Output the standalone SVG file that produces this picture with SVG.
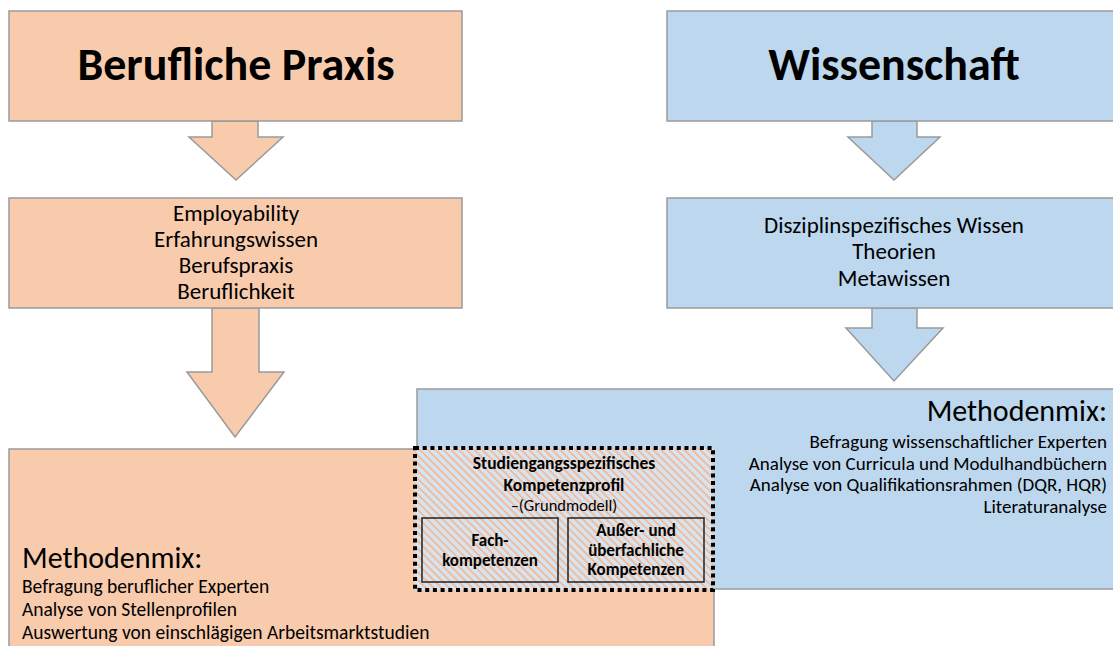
<svg xmlns="http://www.w3.org/2000/svg" width="1113" height="646" viewBox="0 0 1113 646">
<defs>
<style>
.or{fill:#F8CBAD;stroke:#9a9a9a;stroke-width:1.5}
.bl{fill:#BDD7EE;stroke:#9a9a9a;stroke-width:1.5}
text{font-family:Carlito,"Open Sans","Noto Sans",sans-serif;fill:#000}
.title{font-size:46px;font-weight:bold;text-anchor:middle}
.body{font-size:23px;text-anchor:middle}
.mm{font-size:30px}
.ml{font-size:19.5px}
.mr{font-size:19px;text-anchor:end}
.bold{font-weight:bold;font-size:17.5px;text-anchor:middle}
.bs{font-weight:bold;font-size:17px;text-anchor:middle}
.small{font-size:16.5px;text-anchor:middle}
.inner{fill:none;stroke:#222;stroke-width:1.5}
</style>
<pattern id="hatch" patternUnits="userSpaceOnUse" width="5.5" height="5.5" patternTransform="rotate(-45)">
<rect width="5.5" height="5.5" fill="#D6E4F2"/>
<rect width="1.8" height="5.5" fill="#F4B994"/>
</pattern>
</defs>
<rect width="1113" height="646" fill="#fff"/>
<g id="connectors">
<polygon class="or" points="212,121 258,121 258,137 283,137 236,180 189,137 212,137"/>
<polygon class="or" points="212,308 259,308 259,372 284,372 235,437 187,372 212,372"/>
<polygon class="bl" points="872,121 917,121 917,137 940,137 894,180 848,137 872,137"/>
<polygon class="bl" points="872,308 917,308 917,328 943,328 894,381 846,328 872,328"/>
</g>
<g id="berufliche-praxis">
<rect class="or" x="9" y="11" width="453" height="110"/>
<text class="title" x="236" y="80">Berufliche Praxis</text>
</g>
<g id="praxis-inhalte">
<rect class="or" x="9" y="198" width="453" height="110"/>
<text class="body" x="236" y="221">Employability</text>
<text class="body" x="236" y="247">Erfahrungswissen</text>
<text class="body" x="236" y="273">Berufspraxis</text>
<text class="body" x="236" y="299">Beruflichkeit</text>
</g>
<g id="wissenschaft">
<rect class="bl" x="667" y="11" width="460" height="110"/>
<text class="title" x="894" y="80">Wissenschaft</text>
</g>
<g id="wissenschaft-inhalte">
<rect class="bl" x="667" y="198" width="460" height="110"/>
<text class="body" x="894" y="233">Disziplinspezifisches Wissen</text>
<text class="body" x="894" y="259">Theorien</text>
<text class="body" x="894" y="286">Metawissen</text>
</g>
<g id="methodenmix-praxis">
<rect class="or" x="9" y="449" width="705" height="210"/>
<text class="mm" x="22" y="568">Methodenmix:</text>
<text class="ml" x="22" y="593">Befragung beruflicher Experten</text>
<text class="ml" x="22" y="616">Analyse von Stellenprofilen</text>
<text class="ml" x="22" y="639">Auswertung von einschlägigen Arbeitsmarktstudien</text>
</g>
<g id="methodenmix-wissenschaft">
<rect class="bl" x="417" y="389" width="710" height="200"/>
<text class="mm" x="1107" y="421" text-anchor="end">Methodenmix:</text>
<text class="mr" x="1107" y="448">Befragung wissenschaftlicher Experten</text>
<text class="mr" x="1107" y="470">Analyse von Curricula und Modulhandbüchern</text>
<text class="mr" x="1107" y="491">Analyse von Qualifikationsrahmen (DQR, HQR)</text>
<text class="mr" x="1107" y="513">Literaturanalyse</text>
</g>
<g id="kompetenzprofil">
<rect x="415" y="448" width="298" height="142" fill="url(#hatch)" stroke="#000" stroke-width="4" stroke-dasharray="4 3.7"/>
<text class="bold" x="564" y="469">Studiengangsspezifisches</text>
<text class="bold" x="564" y="491">Kompetenzprofil</text>
<text class="small" x="564" y="511">–(Grundmodell)</text>
</g>
<g id="fachkompetenzen">
<rect class="inner" x="422" y="518" width="136" height="64"/>
<text class="bs" x="490" y="546">Fach-</text>
<text class="bs" x="490" y="566">kompetenzen</text>
</g>
<g id="ueberfachliche-kompetenzen">
<rect class="inner" x="568" y="518" width="136" height="64"/>
<text class="bs" x="636" y="536">Außer- und</text>
<text class="bs" x="636" y="556">überfachliche</text>
<text class="bs" x="636" y="575">Kompetenzen</text>
</g>
</svg>
